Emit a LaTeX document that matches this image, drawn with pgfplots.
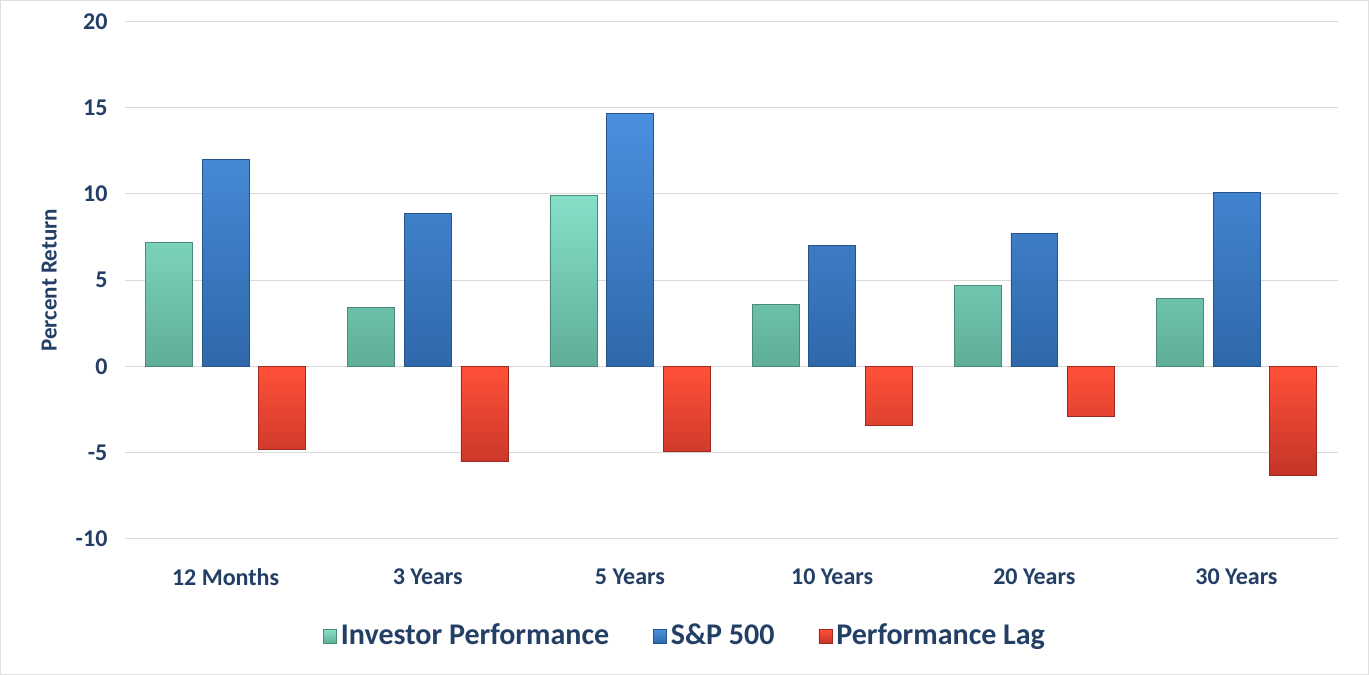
\documentclass[border=0pt]{standalone}
\usepackage{pgfplots}
\pgfplotsset{compat=1.18}
\usepackage{fontspec}
\setmainfont{Carlito}
\definecolor{txt}{HTML}{243F66}
\definecolor{tealT}{HTML}{86E0C8}
\definecolor{tealB}{HTML}{5EAE98}
\definecolor{blueT}{HTML}{4A90DF}
\definecolor{blueB}{HTML}{2F68AA}
\definecolor{redT}{HTML}{FF5038}
\definecolor{redB}{HTML}{C43528}
\pgfplotsset{sqleg/.style={legend image code/.code={\fill[##1] (0pt,-3.8pt) rectangle (6.5pt,3.2pt);}}}
\begin{document}
\begin{tikzpicture}
\draw[gray!25, fill=white] (0.5pt,0.5pt) rectangle (684pt,337pt);
\begin{axis}[
  at={(62.5pt,68pt)}, anchor=south west,
  scale only axis, width=606pt, height=258.5pt,
  xmin=-0.5, xmax=5.5, ymin=-10, ymax=20,
  ytick={-10,-5,0,5,10,15,20},
  xtick={0,1,2,3,4,5},
  xticklabels={12 Months,3 Years,5 Years,10 Years,20 Years,30 Years},
  axis line style={draw=none}, tick style={draw=none},
  ymajorgrids, major grid style={draw=black!15, line width=0.6pt},
  font=\bfseries\fontsize{12}{14}\selectfont,
  ticklabel style={text=txt, font=\bfseries\fontsize{12}{14}\selectfont},
  /pgf/number format/assume math mode=true,
  yticklabel style={xshift=-5pt},
  xticklabel style={yshift=-7pt},
  ylabel={Percent Return},
  ylabel style={at={(axis description cs:-0.062,0.5)}, anchor=center, text=txt, font=\bfseries\fontsize{11.5}{14}\selectfont},
  legend style={at={(0.463,-0.187)}, anchor=center, draw=none, fill=none,
    legend columns=3, text=txt, font=\bfseries\fontsize{15}{18}\selectfont,
    /tikz/every even column/.append style={column sep=20pt}},
  ybar, bar width=0.232,
]
\addplot[bar shift=-0.28, draw=tealB!80!black, line width=0.3pt, top color=tealT, bottom color=tealB, sqleg]
  coordinates {(0,7.2) (1,3.4) (2,9.9) (3,3.6) (4,4.7) (5,3.95)};
\addlegendentry{Investor Performance}
\addplot[bar shift=0, draw=blueB!80!black, line width=0.3pt, top color=blueT, bottom color=blueB, sqleg]
  coordinates {(0,12.0) (1,8.85) (2,14.65) (3,7.0) (4,7.7) (5,10.1)};
\addlegendentry{S\&P 500}
\addplot[bar shift=0.28, draw=redB!80!black, line width=0.3pt, top color=redT, bottom color=redB, sqleg]
  coordinates {(0,-4.8) (1,-5.5) (2,-4.9) (3,-3.4) (4,-2.9) (5,-6.3)};
\addlegendentry{Performance Lag}
\end{axis}
\end{tikzpicture}
\end{document}
